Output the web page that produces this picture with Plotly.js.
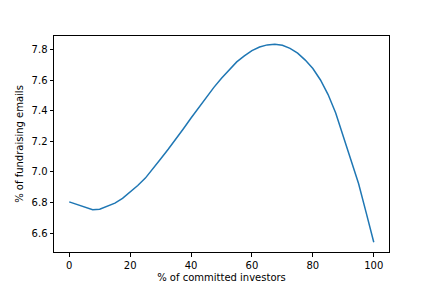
<!DOCTYPE html>
<html>
<head>
<meta charset="utf-8">
<script src="https://cdn.plot.ly/plotly-3.0.1.min.js"></script>
<style>html,body{margin:0;padding:0;background:#fff;}#chart{width:432px;height:288px;}</style>
</head>
<body>
<div id="chart"></div>
<script>
const committedInvestors = [0, 7.7, 10, 12.5, 15, 17.5, 20, 22.5, 25, 27.5, 30, 32.5, 35, 37.5, 40, 42.5, 45, 47.5, 50, 52.5, 55, 57.5, 60, 62.5, 65, 67.5, 70, 72.5, 75, 77.5, 80, 82.5, 85, 87.5, 90, 92.5, 95, 97.5, 100];
const fundraisingEmails = [6.805, 6.754, 6.757, 6.775, 6.797, 6.828, 6.868, 6.912, 6.960, 7.020, 7.085, 7.148, 7.213, 7.282, 7.352, 7.420, 7.488, 7.552, 7.612, 7.665, 7.718, 7.757, 7.792, 7.815, 7.829, 7.833, 7.826, 7.806, 7.775, 7.730, 7.675, 7.600, 7.505, 7.385, 7.230, 7.072, 6.925, 6.735, 6.542];
const xTicks = [0, 20, 40, 60, 80, 100];
const yTicks = [6.6, 6.8, 7.0, 7.2, 7.4, 7.6, 7.8];
const yTickLabels = ["6.6", "6.8", "7.0", "7.2", "7.4", "7.6", "7.8"];

const font = {family: "DejaVu Sans", size: 10, color: "#000"};
const axisCommon = {
  showgrid: false, zeroline: false, showline: true, mirror: true,
  linecolor: "#000", linewidth: 1, ticks: "outside", ticklen: 3.5,
  tickwidth: 1, tickcolor: "#000", tickfont: font
};
Plotly.newPlot("chart", [{
  x: committedInvestors, y: fundraisingEmails, type: "scatter", mode: "lines",
  line: {color: "#1f77b4", width: 1.5}
}], {
  width: 432, height: 288,
  margin: {l: 54, r: 43, t: 36, b: 36},
  paper_bgcolor: "#fff", plot_bgcolor: "#fff",
  showlegend: false,
  xaxis: Object.assign({}, axisCommon, {
    range: [-5, 105], tickvals: xTicks,
    title: {text: "% of committed investors", font: font, standoff: 4}
  }),
  yaxis: Object.assign({}, axisCommon, {
    range: [6.478, 7.887], tickvals: yTicks, ticktext: yTickLabels,
    title: {text: "% of fundraising emails", font: font, standoff: 6}
  })
}, {staticPlot: true, displayModeBar: false});
</script>
</body>
</html>
